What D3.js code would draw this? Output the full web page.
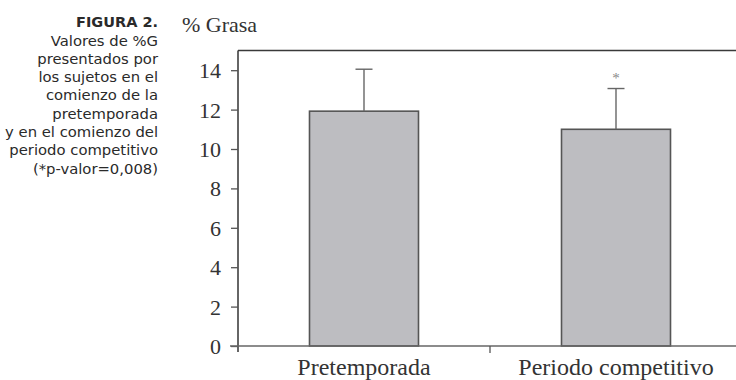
<!DOCTYPE html>
<html>
<head>
<meta charset="utf-8">
<script src="https://cdn.jsdelivr.net/npm/d3@7"></script>
<style>
  body { margin: 0; background: #fff; }
</style>
</head>
<body>
<div id="chart"></div>
<script>
// datos
const categorias = ["Pretemporada", "Periodo competitivo"];
const medias = [11.92, 11.0];
const desv = [2.13, 2.07];
const signif = ["", "*"];
const yTicks = [0, 2, 4, 6, 8, 10, 12, 14];
const leyenda = ["Valores de %G", "presentados por", "los sujetos en el", "comienzo de la",
  "pretemporada", "y en el comienzo del", "periodo competitivo", "(*p-valor=0,008)"];

const width = 736, height = 380;
const mLeft = 238, mRight = 742, mTop = 50.5, mBottom = 346;
const serif = "'Liberation Serif', 'DejaVu Serif', serif";
const sans = "'DejaVu Sans', 'Noto Sans', sans-serif";

const svg = d3.select("#chart")
    .append("svg")
    .attr("width", width)
    .attr("height", height);

const x = d3.scaleBand()
    .domain(categorias)
    .range([mLeft, mRight]);

const y = d3.scaleLinear()
    .domain([0, 15])
    .range([mBottom, mTop]);

const barW = 109;

// texto de la figura
const cap = svg.append("text")
    .style("font-family", sans)
    .style("fill", "#2a2a2a")
    .attr("text-anchor", "end");
cap.append("tspan")
    .attr("x", 158).attr("y", 27)
    .attr("font-weight", "bold")
    .attr("font-size", "14.5px")
    .text("FIGURA 2.");
leyenda.forEach(function (t, i) {
    cap.append("tspan")
        .attr("x", 158)
        .attr("y", 45.5 + i * 18.3)
        .attr("font-size", "14.8px")
        .text(t);
});

// titulo del eje
svg.append("text")
    .style("font-family", serif)
    .style("fill", "#333")
    .attr("x", 182)
    .attr("y", 32)
    .attr("font-size", "22px")
    .text("% Grasa");

// marco superior
svg.append("line")
    .attr("x1", mLeft).attr("x2", width)
    .attr("y1", mTop).attr("y2", mTop)
    .attr("stroke", "#3a3a3a")
    .attr("stroke-width", 1.5);

// eje y
const axisY = d3.axisLeft(y)
    .tickValues(yTicks)
    .tickSize(7)
    .tickPadding(10)
    .tickSizeOuter(0);

const gy = svg.append("g")
    .attr("transform", `translate(${mLeft},0)`)
    .call(axisY);
gy.select(".domain").attr("stroke", "#333").attr("stroke-width", 1.5)
    .attr("d", `M0,${mTop}V${mBottom + 6}`);
gy.selectAll(".tick line").attr("stroke", "#555").attr("stroke-width", 1.3);
gy.selectAll(".tick text")
    .style("font-family", serif)
    .style("font-size", "22px")
    .style("fill", "#333")
    .attr("dy", "0.34em");

// barras
svg.selectAll("rect.bar")
    .data(medias)
    .enter()
    .append("rect")
    .attr("class", "bar")
    .attr("x", function (d, i) { return x(categorias[i]) + x.bandwidth() / 2 - barW / 2; })
    .attr("y", function (d) { return y(d); })
    .attr("width", barW)
    .attr("height", function (d) { return y(0) - y(d); })
    .attr("fill", "#bdbdc1")
    .attr("stroke", "#555")
    .attr("stroke-width", 1.6);

// barras de error
const err = svg.selectAll("g.err")
    .data(medias)
    .enter()
    .append("g")
    .attr("class", "err");
err.append("line")
    .attr("x1", function (d, i) { return x(categorias[i]) + x.bandwidth() / 2; })
    .attr("x2", function (d, i) { return x(categorias[i]) + x.bandwidth() / 2; })
    .attr("y1", function (d) { return y(d); })
    .attr("y2", function (d, i) { return y(d + desv[i]); })
    .attr("stroke", "#666")
    .attr("stroke-width", 1.4);
err.append("line")
    .attr("x1", function (d, i) { return x(categorias[i]) + x.bandwidth() / 2 - 8.5; })
    .attr("x2", function (d, i) { return x(categorias[i]) + x.bandwidth() / 2 + 8.5; })
    .attr("y1", function (d, i) { return y(d + desv[i]); })
    .attr("y2", function (d, i) { return y(d + desv[i]); })
    .attr("stroke", "#666")
    .attr("stroke-width", 1.4);
err.append("text")
    .style("font-family", serif)
    .style("fill", "#888")
    .attr("x", function (d, i) { return x(categorias[i]) + x.bandwidth() / 2; })
    .attr("y", function (d, i) { return y(d + desv[i]) - 6; })
    .attr("text-anchor", "middle")
    .attr("font-size", "15px")
    .text(function (d, i) { return signif[i]; });

// eje x
const axisX = d3.axisBottom(x)
    .tickSize(0)
    .tickPadding(12);
const gx = svg.append("g")
    .attr("transform", `translate(0,${mBottom})`)
    .call(axisX);
gx.select(".domain").attr("stroke", "#666").attr("stroke-width", 1.5)
    .attr("d", `M${mLeft - 8},0H${width}`);
gx.selectAll(".tick text")
    .style("font-family", serif)
    .style("font-size", "24px")
    .style("fill", "#333")
    .attr("dy", "0.71em");
// marca entre categorias
gx.append("line")
    .attr("x1", x(categorias[1])).attr("x2", x(categorias[1]))
    .attr("y1", 0).attr("y2", 7)
    .attr("stroke", "#555")
    .attr("stroke-width", 1.3);
</script>
</body>
</html>
